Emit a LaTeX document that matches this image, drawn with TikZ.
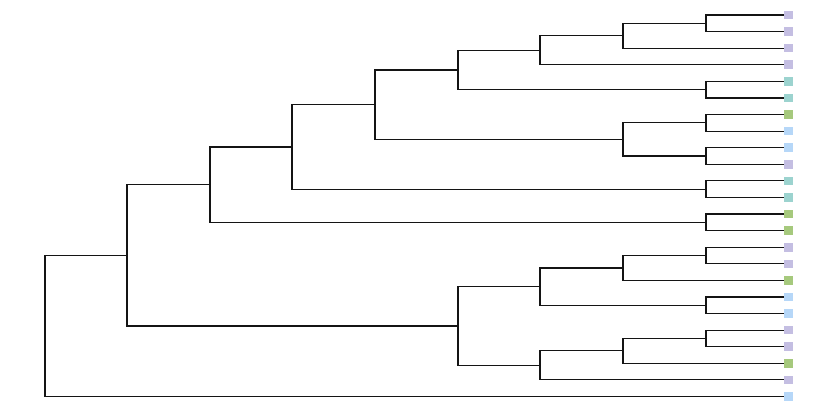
\documentclass[tikz,border=0pt]{standalone}
\definecolor{cpur}{HTML}{C4BEE2}
\definecolor{cteal}{HTML}{9CD3CF}
\definecolor{cgreen}{HTML}{A6C97D}
\definecolor{cblue}{HTML}{B6D7F8}
\begin{document}
\begin{tikzpicture}[x=1pt,y=-1pt,
  leafbox/.style={rectangle,inner sep=0pt,minimum size=8.6pt,anchor=west,draw=none},
  branch/.style={draw=black!92,line width=1.15pt}]
\useasboundingbox (0,0) rectangle (832,416);
% leaves
\foreach \i/\y/\c in {1/15.0/cpur,2/31.59/cpur,3/48.17/cpur,4/64.76/cpur,5/81.35/cteal,6/97.94/cteal,
  7/114.52/cgreen,8/131.11/cblue,9/147.70/cblue,10/164.28/cpur,11/180.87/cteal,12/197.46/cteal,
  13/214.04/cgreen,14/230.63/cgreen,15/247.22/cpur,16/263.81/cpur,17/280.39/cgreen,18/296.98/cblue,
  19/313.57/cblue,20/330.15/cpur,21/346.74/cpur,22/363.33/cgreen,23/379.91/cpur,24/396.50/cblue}
  {\node[leafbox,fill=\c] (s\i) at (784,\y) {};}
% internal nodes
\coordinate (a1) at (706,23.29);
\coordinate (a2) at (623,35.73);
\coordinate (a3) at (540,50.25);
\coordinate (a4) at (706,89.65);
\coordinate (a5) at (458,69.95);
\coordinate (a6) at (706,122.82);
\coordinate (a7) at (706,155.99);
\coordinate (a8) at (623,139.40);
\coordinate (a9) at (375,104.68);
\coordinate (a10) at (706,189.17);
\coordinate (a11) at (292,146.92);
\coordinate (a12) at (706,222.34);
\coordinate (a13) at (210,184.63);
\coordinate (b1) at (706,255.52);
\coordinate (b2) at (623,267.95);
\coordinate (b3) at (706,305.28);
\coordinate (b4) at (540,286.61);
\coordinate (b5) at (706,338.45);
\coordinate (b6) at (623,350.89);
\coordinate (b7) at (540,365.40);
\coordinate (b8) at (458,326.00);
\coordinate (c1) at (127,255.32);
\coordinate (root) at (45,325.91);
% branches
\draw[branch] (a1) |- (s1.west); \draw[branch] (a1) |- (s2.west);
\draw[branch] (a2) |- (a1); \draw[branch] (a2) |- (s3.west);
\draw[branch] (a3) |- (a2); \draw[branch] (a3) |- (s4.west);
\draw[branch] (a4) |- (s5.west); \draw[branch] (a4) |- (s6.west);
\draw[branch] (a5) |- (a3); \draw[branch] (a5) |- (a4);
\draw[branch] (a6) |- (s7.west); \draw[branch] (a6) |- (s8.west);
\draw[branch] (a7) |- (s9.west); \draw[branch] (a7) |- (s10.west);
\draw[branch] (a8) |- (a6); \draw[branch] (a8) |- (a7);
\draw[branch] (a9) |- (a5); \draw[branch] (a9) |- (a8);
\draw[branch] (a10) |- (s11.west); \draw[branch] (a10) |- (s12.west);
\draw[branch] (a11) |- (a9); \draw[branch] (a11) |- (a10);
\draw[branch] (a12) |- (s13.west); \draw[branch] (a12) |- (s14.west);
\draw[branch] (a13) |- (a11); \draw[branch] (a13) |- (a12);
\draw[branch] (b1) |- (s15.west); \draw[branch] (b1) |- (s16.west);
\draw[branch] (b2) |- (b1); \draw[branch] (b2) |- (s17.west);
\draw[branch] (b3) |- (s18.west); \draw[branch] (b3) |- (s19.west);
\draw[branch] (b4) |- (b2); \draw[branch] (b4) |- (b3);
\draw[branch] (b5) |- (s20.west); \draw[branch] (b5) |- (s21.west);
\draw[branch] (b6) |- (b5); \draw[branch] (b6) |- (s22.west);
\draw[branch] (b7) |- (b6); \draw[branch] (b7) |- (s23.west);
\draw[branch] (b8) |- (b4); \draw[branch] (b8) |- (b7);
\draw[branch] (c1) |- (a13); \draw[branch] (c1) |- (b8);
\draw[branch] (root) |- (c1); \draw[branch] (root) |- (s24.west);
\end{tikzpicture}
\end{document}
